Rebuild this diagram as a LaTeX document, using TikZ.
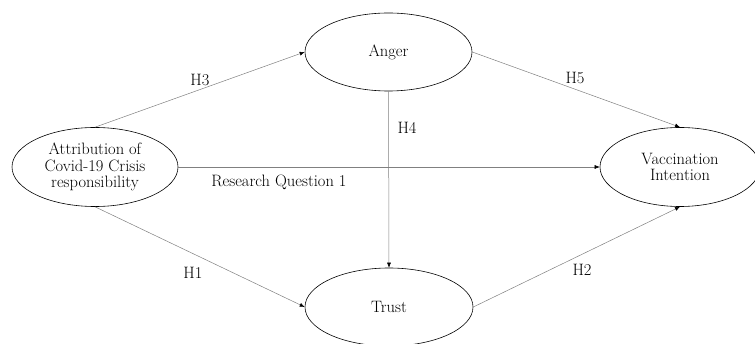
\documentclass[tikz,border=0pt]{standalone}
\usetikzlibrary{arrows.meta,shapes.geometric}
\tikzset{
construct/.style={ellipse, draw=black, line width=0.6pt, align=center, inner sep=0pt},
path arr/.style={-{Latex[length=5pt,width=4pt,color=black]}, gray, line width=0.5pt},
hyp/.style={inner sep=0pt},
}
\tikzstyle{every node}=[font=\fontsize{16.5}{16.5}\selectfont]

\begin{document}
\begin{tikzpicture}[x=1pt, y=1pt]
    \useasboundingbox (0,0) rectangle (755,343);
    \node[construct, minimum width=166, minimum height=79] (attr) at (95,176)
        {Attribution of\\Covid-19 Crisis\\responsibility};
    \node[construct, minimum width=167, minimum height=78] (anger) at (388.5,291) {Anger};
    \node[construct, minimum width=168, minimum height=78] (trust) at (389,36) {Trust};
    \node[construct, minimum width=160, minimum height=79] (vacc) at (680,176)
        {Vaccination\\Intention};

    \draw[path arr] (attr.north) -- (anger.west);
    \draw[path arr] (attr.south) -- (trust.west);
    \draw[path arr] (attr.east) -- (vacc.west);
    \draw[path arr] (anger.east) -- (vacc.north);
    \draw[path arr] (anger.south) -- (trust.north);
    \draw[path arr] (trust.east) -- (vacc.south);

    \node[hyp] (lblHthree) at (200,263) {H3};
    \node[hyp] (lblHone) at (193,70) {H1};
    \node[hyp] (lblRq) at (279,161) {Research Question 1};
    \node[hyp] (lblHfive) at (575,265) {H5};
    \node[hyp] (lblHfour) at (407,215) {H4};
    \node[hyp] (lblHtwo) at (582,73) {H2};
\end{tikzpicture}
\end{document}
